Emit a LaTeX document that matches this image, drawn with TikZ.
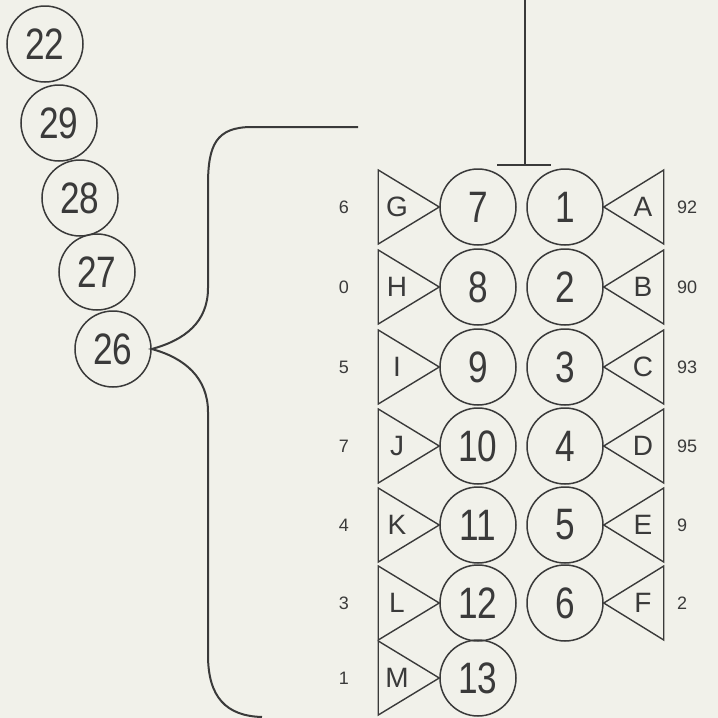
\documentclass[tikz,border=0pt]{standalone}
\usepackage{fontspec}
\setmainfont{Liberation Sans}
\newfontfamily\ballfont[FakeStretch=0.8]{Liberation Sans}
\definecolor{paper}{RGB}{241,241,234}
\definecolor{pencil}{RGB}{58,58,58}
\begin{document}
\begin{tikzpicture}[x=1pt,y=-1pt,
  ball/.style={circle, draw=pencil, line width=1.5pt, minimum size=76pt, inner sep=0pt,
    font=\ballfont\fontsize{44}{44}\selectfont, text=pencil},
  tri/.style={draw=pencil, line width=1.4pt, line join=miter},
  tlabel/.style={font=\fontsize{28}{28}\selectfont, text=pencil, inner sep=0pt},
  side/.style={font=\fontsize{18}{18}\selectfont, text=pencil, inner sep=0pt},
  wire/.style={draw=pencil, line width=2pt}]
\fill[paper] (0,0) rectangle (718,718);
\useasboundingbox (0,0) rectangle (718,718);

% left chain
\node[ball] (c22) at (45,44) {22};
\node[ball] (c29) at (59,123) {29};
\node[ball] (c28) at (80,198) {28};
\node[ball] (c27) at (97,272) {27};
\node[ball] (c26) at (113,349) {26};

% brace
\coordinate (bt) at (358,127);
\coordinate (bb) at (262,717);
\draw[wire] (bt) -- (252,127) .. controls (216,127) and (208,145) .. (208,185)
  -- (208,288) .. controls (208,322) and (185,340) .. (c26.east)
  .. controls (185,358) and (208,378) .. (208,412)
  -- (208,655) .. controls (208,697) and (226,716) .. (bb);

% top line with T bar
\coordinate (top) at (525,0);
\coordinate (tj) at (525,165);
\draw[wire] (top) -- (tj);
\draw[wire] ([xshift=-28pt]tj) -- ([xshift=26pt]tj);

% right column with triangles A..F
\foreach \n/\l/\y/\s in {1/A/207/92, 2/B/287/90, 3/C/367/93, 4/D/446/95, 5/E/525/9, 6/F/603/2}{
  \node[ball] (c\n) at (565,\y) {\n};
  \draw[tri] (c\n.east) -- ++(60,-37) -- ++(0,74) -- cycle;
  \node[tlabel] (t\l) at ([xshift=78pt]c\n.center) {\l};
  \node[side, anchor=west] (s\l) at ([xshift=112pt]c\n.center) {\s};
}

% left column with triangles G..M
\foreach \n/\l/\y/\s in {7/G/207/6, 8/H/287/0, 9/I/367/5, 10/J/446/7, 11/K/525/4, 12/L/603/3, 13/M/678/1}{
  \node[ball] (c\n) at (478,\y) {\n};
  \draw[tri] (c\n.west) -- ++(-61,-37) -- ++(0,74) -- cycle;
  \node[tlabel] (t\l) at ([xshift=-81pt]c\n.center) {\l};
  \node[side] (s\l) at ([xshift=-134pt]c\n.center) {\s};
}
\end{tikzpicture}
\end{document}
